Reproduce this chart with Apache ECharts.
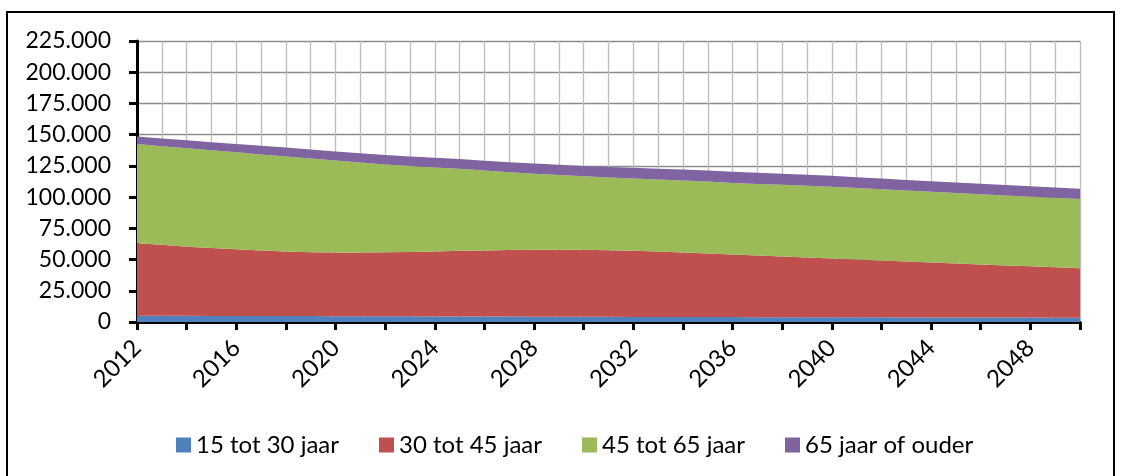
<!DOCTYPE html>
<html>
<head>
<meta charset="utf-8">
<script src="https://cdn.jsdelivr.net/npm/echarts@6/dist/echarts.min.js"></script>
<style>
html,body{margin:0;padding:0;background:#fff;}
#chart{width:1122px;height:476px;}
</style>
</head>
<body>
<div id="chart"></div>
<script>
const years = ['2012','2013','2014','2015','2016','2017','2018','2019','2020','2021',
  '2022','2023','2024','2025','2026','2027','2028','2029','2030','2031',
  '2032','2033','2034','2035','2036','2037','2038','2039','2040','2041',
  '2042','2043','2044','2045','2046','2047','2048','2049','2050'];

const seriesNames = ['15 tot 30 jaar', '30 tot 45 jaar', '45 tot 65 jaar', '65 jaar of ouder'];

const age15to30 = [5000,5000,5000,4900,4900,4900,4800,4800,4700,4700,
  4600,4600,4500,4500,4400,4400,4300,4300,4200,4200,
  4100,4100,4000,4000,4000,3900,3900,3900,3800,3800,
  3800,3700,3700,3700,3600,3600,3600,3500,3500];

const age30to45 = [58100,56800,55300,54300,53400,52400,51600,51100,50900,50900,
  51200,51500,52000,52500,52900,53200,53500,53600,53600,53300,
  53000,52300,51600,50800,50000,49300,48500,47800,47100,46300,
  45500,44800,44000,43200,42500,41700,41000,40300,39600];

const age45to65 = [79400,79000,78900,78300,77600,76900,76200,75000,73700,72100,
  70400,68900,67300,65700,64000,62300,60900,59800,58900,58300,
  57900,57700,57700,57600,57300,57300,57400,57400,57400,57200,
  57000,56700,56500,56300,56100,56000,55700,55600,55400];

const age65plus = [6000,6200,6300,6500,6700,6900,7100,7200,7300,7400,
  7500,7600,7700,7800,7900,8000,8200,8300,8300,8400,
  8500,8700,8800,8900,9000,9000,9000,8900,8800,8700,
  8600,8600,8500,8500,8400,8400,8300,8200,8100];

const colors = ['#4f81bd', '#c0504d', '#9bbb59', '#8064a2'];
const FONT = 'Lato';

function fmt(v) {
  return String(v).replace(/\B(?=(\d{3})+(?!\d))/g, '.');
}

const dataSets = [age15to30, age30to45, age45to65, age65plus];

const chart = echarts.init(document.getElementById('chart'), null, {renderer: 'canvas'});
chart.setOption({
  animation: false,
  backgroundColor: '#fff',
  color: colors,
  graphic: [{
    type: 'rect',
    shape: {x: 7, y: 12, width: 1107, height: 480},
    style: {fill: 'none', stroke: '#000', lineWidth: 2},
    z: 100
  }],
  grid: {left: 137, right: 42, top: 41, bottom: 154, containLabel: false},
  legend: {
    left: 171,
    top: 428,
    itemWidth: 15,
    itemHeight: 15,
    itemGap: 40,
    icon: 'rect',
    textStyle: {fontFamily: FONT, fontSize: 24, color: '#000'},
    data: seriesNames
  },
  xAxis: {
    type: 'category',
    data: years,
    boundaryGap: false,
    axisLine: {show: true, lineStyle: {color: '#000', width: 3}},
    axisTick: {show: true, interval: 1, length: 8, lineStyle: {color: '#000', width: 3}},
    axisLabel: {interval: 3, rotate: 45, margin: 22, fontFamily: FONT, fontSize: 24, color: '#000'},
    splitLine: {show: true, interval: 0, lineStyle: {color: '#bcbcbc', width: 1.3}}
  },
  yAxis: {
    type: 'value',
    min: 0,
    max: 225000,
    interval: 25000,
    axisLine: {show: true, lineStyle: {color: '#000', width: 3}},
    axisTick: {show: true, length: 8, lineStyle: {color: '#000', width: 3}},
    axisLabel: {margin: 26, fontFamily: FONT, fontSize: 23, color: '#000', formatter: fmt},
    splitLine: {show: true, lineStyle: {color: '#8c8c8c', width: 1.3}}
  },
  series: dataSets.map((d, i) => ({
    name: seriesNames[i],
    type: 'line',
    stack: 'total',
    data: d,
    showSymbol: false,
    symbol: 'none',
    lineStyle: {width: 0},
    areaStyle: {color: colors[i], opacity: 1},
    itemStyle: {color: colors[i]},
    z: 2
  }))
});
</script>
</body>
</html>
